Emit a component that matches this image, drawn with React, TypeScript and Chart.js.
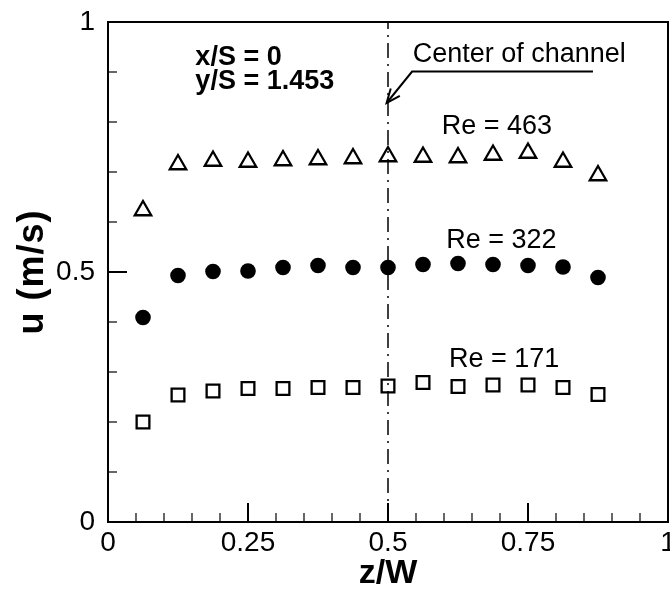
import React, { useEffect, useRef } from 'react';
import { Chart, registerables } from 'chart.js';

Chart.register(...registerables);

// ---- data ----
const zOverW = [0.0625, 0.125, 0.1875, 0.25, 0.3125, 0.375, 0.4375, 0.5, 0.5625, 0.625, 0.6875, 0.75, 0.8125, 0.875];
const uRe463 = [0.623, 0.715, 0.722, 0.72, 0.723, 0.725, 0.727, 0.731, 0.73, 0.729, 0.734, 0.738, 0.72, 0.693];
const uRe322 = [0.409, 0.493, 0.501, 0.502, 0.509, 0.513, 0.509, 0.509, 0.515, 0.517, 0.515, 0.513, 0.51, 0.489];
const uRe171 = [0.2, 0.254, 0.262, 0.267, 0.267, 0.269, 0.269, 0.272, 0.279, 0.271, 0.274, 0.274, 0.269, 0.255];
const seriesNames = ['Re = 463', 'Re = 322', 'Re = 171'];
const centerLineZ = [0.5, 0.5];
const centerLineU = [0, 1];
const xTickValues = [0, 0.25, 0.5, 0.75, 1];
const yTickValues = [0, 0.5, 1];
const xTitle = 'z/W';
const yTitle = 'u (m/s)';
const infoLines = ['x/S = 0', 'y/S = 1.453'];
const centerLabel = 'Center of channel';

const FONT = '"Liberation Sans", Arial, Helvetica, sans-serif';

export default function App() {
  const ref = useRef<HTMLCanvasElement | null>(null);

  useEffect(() => {
    const canvas = ref.current;
    if (!canvas) return;

    const frame = {
      id: 'frame',
      beforeDatasetsDraw(chart: any) {
        const { ctx, chartArea: a, scales } = chart;
        const x = scales.x, y = scales.y;
        ctx.save();
        ctx.strokeStyle = '#000';
        for (let i = 0; i <= 20; i++) {
          const v = i / 20;
          const major = i % 5 === 0;
          const px = x.getPixelForValue(v);
          ctx.lineWidth = major ? 2 : 1.2;
          ctx.beginPath();
          ctx.moveTo(px, a.bottom);
          ctx.lineTo(px, a.bottom - (major ? 19 : 9));
          ctx.stroke();
        }
        for (let i = 0; i <= 10; i++) {
          const v = i / 10;
          const major = i % 5 === 0;
          const py = y.getPixelForValue(v);
          ctx.lineWidth = major ? 2 : 1.2;
          ctx.beginPath();
          ctx.moveTo(a.left, py);
          ctx.lineTo(a.left + (major ? 19 : 9), py);
          ctx.stroke();
        }
        ctx.lineWidth = 2;
        ctx.strokeRect(a.left, a.top, a.right - a.left, a.bottom - a.top);
        ctx.restore();
      },
      afterDatasetsDraw(chart: any) {
        const { ctx, chartArea: a, scales } = chart;
        const x = scales.x, y = scales.y;
        const X = (v: number) => x.getPixelForValue(v);
        const Y = (v: number) => y.getPixelForValue(v);
        ctx.save();
        ctx.fillStyle = '#000';
        ctx.strokeStyle = '#000';
        ctx.textBaseline = 'alphabetic';
        ctx.textAlign = 'left';

        ctx.font = `bold 27px ${FONT}`;
        ctx.fillText(infoLines[0], X(0.156), Y(0.914));
        ctx.fillText(infoLines[1], X(0.156), Y(0.867));

        ctx.font = `27px ${FONT}`;
        ctx.fillText(centerLabel, X(0.544), Y(0.921));

        ctx.fillText(seriesNames[0], X(0.596), Y(0.776));
        ctx.fillText(seriesNames[1], X(0.604), Y(0.548));
        ctx.fillText(seriesNames[2], X(0.609), Y(0.31));

        const p0 = [X(0.866), Y(0.901)];
        const p1 = [X(0.543), Y(0.901)];
        const p2 = [X(0.4975), Y(0.838)];
        ctx.lineWidth = 2;
        ctx.beginPath();
        ctx.moveTo(p0[0], p0[1]);
        ctx.lineTo(p1[0], p1[1]);
        ctx.lineTo(p2[0], p2[1]);
        ctx.stroke();
        const ang = Math.atan2(p1[1] - p2[1], p1[0] - p2[0]);
        const L = 15, h = 0.4;
        ctx.beginPath();
        ctx.moveTo(p2[0] + L * Math.cos(ang - h), p2[1] + L * Math.sin(ang - h));
        ctx.lineTo(p2[0], p2[1]);
        ctx.lineTo(p2[0] + L * Math.cos(ang + h), p2[1] + L * Math.sin(ang + h));
        ctx.stroke();

        ctx.font = `bold 34px ${FONT}`;
        ctx.textAlign = 'center';
        ctx.fillText(xTitle, (a.left + a.right) / 2, 583);
        ctx.save();
        ctx.font = `bold 36px ${FONT}`;
        ctx.translate(43, (a.top + a.bottom) / 2);
        ctx.rotate(-Math.PI / 2);
        (ctx as any).letterSpacing = '1px';
        ctx.fillText(yTitle, 0, 0);
        ctx.restore();

        ctx.restore();
      },
    };

    const pts = (ys: number[]) => zOverW.map((z, i) => ({ x: z, y: ys[i] }));

    const chart = new Chart(canvas, {
      type: 'scatter',
      data: {
        datasets: [
          {
            label: seriesNames[0],
            data: pts(uRe463),
            pointStyle: 'triangle',
            pointRadius: 9.5,
            borderWidth: 2.3,
            borderColor: '#000',
            backgroundColor: 'rgba(0,0,0,0)',
            showLine: false,
          },
          {
            label: seriesNames[1],
            data: pts(uRe322),
            pointStyle: 'circle',
            pointRadius: 7.8,
            borderWidth: 0,
            borderColor: '#000',
            backgroundColor: '#000',
            showLine: false,
          },
          {
            label: seriesNames[2],
            data: pts(uRe171),
            pointStyle: 'rect',
            pointRadius: 9,
            borderWidth: 2.3,
            borderColor: '#000',
            backgroundColor: 'rgba(0,0,0,0)',
            showLine: false,
          },
          {
            label: 'center',
            data: centerLineZ.map((z, i) => ({ x: z, y: centerLineU[i] })),
            showLine: true,
            pointRadius: 0,
            borderWidth: 1.5,
            borderColor: '#000',
            borderDash: [15, 6, 2, 6],
            backgroundColor: 'rgba(0,0,0,0)',
          },
        ],
      },
      options: {
        responsive: false,
        animation: false,
        devicePixelRatio: 1,
        layout: { padding: { top: 22, right: 52, left: 0, bottom: 0 } },
        plugins: { legend: { display: false }, tooltip: { enabled: false } },
        scales: {
          x: {
            type: 'linear',
            position: 'bottom',
            min: 0,
            max: 1,
            afterBuildTicks: (s: any) => { s.ticks = xTickValues.map((v) => ({ value: v })); },
            afterFit: (s: any) => { s.height = 70; },
            ticks: {
              color: '#000',
              font: { family: FONT, size: 28 },
              padding: 0,
              maxRotation: 0,
              autoSkip: false,
              callback: (v: any) => String(v),
            },
            grid: { display: false, drawTicks: true, tickLength: 4 },
            border: { display: false },
          },
          y: {
            type: 'linear',
            position: 'left',
            min: 0,
            max: 1,
            afterBuildTicks: (s: any) => { s.ticks = yTickValues.map((v) => ({ value: v })); },
            afterFit: (s: any) => { s.width = 108; },
            ticks: {
              color: '#000',
              font: { family: FONT, size: 28 },
              padding: 0,
              autoSkip: false,
              callback: (v: any) => String(v),
            },
            grid: { display: false, drawTicks: true, tickLength: 13 },
            border: { display: false },
          },
        },
      },
      plugins: [frame],
    } as any);

    return () => chart.destroy();
  }, []);

  return (
    <div style={{ position: 'fixed', left: 0, top: 0, width: 670, height: 592, overflow: 'hidden', background: '#fff' }}>
      <canvas ref={ref} width={720} height={592} style={{ width: 720, height: 592, display: 'block' }} />
    </div>
  );
}
